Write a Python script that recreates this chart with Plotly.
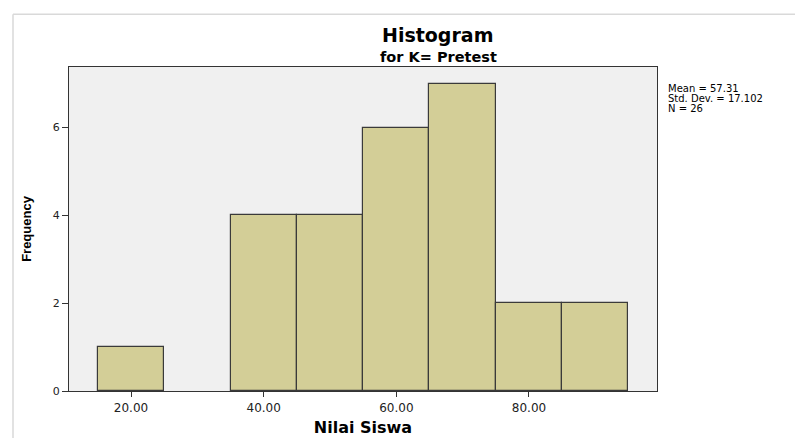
import plotly.graph_objects as go

bin_centers = [20, 40, 50, 60, 70, 80, 90]
frequencies = [1, 4, 4, 6, 7, 2, 2]
bin_width = 10
x_ticks = [20, 40, 60, 80]
y_ticks = [0, 2, 4, 6]
stats_lines = ["Mean = 57.31", "Std. Dev. = 17.102", "N = 26"]

W, H = 795, 446
L, R, T, B = 69, 138, 67, 48
pw = W - L - R
ph = H - T - B

def px(x):
    return (x - L) / pw

def py(y):
    return (H - B - y) / ph

font_family = "DejaVu Sans, Liberation Sans, Arial, sans-serif"

fig = go.Figure()
fig.add_trace(go.Bar(
    x=bin_centers, y=frequencies, width=[bin_width] * len(bin_centers),
    marker=dict(color="#d3ce97", line=dict(color="#3a3a3a", width=1.2)),
    showlegend=False, hoverinfo="x+y",
))

fig.update_layout(
    width=W, height=H,
    margin=dict(l=L, r=R, t=T, b=B, pad=0),
    paper_bgcolor="white",
    plot_bgcolor="#f0f0f0",
    font=dict(family=font_family, color="black"),
    bargap=0,
    xaxis=dict(
        range=[10.65, 99.3], tickvals=x_ticks, tickformat=".2f",
        showgrid=False, zeroline=False, showline=True, mirror=True,
        linecolor="#333333", linewidth=1.2, ticks="outside", ticklen=5,
        tickcolor="#333333", tickfont=dict(size=12, color="#222222"),
        title=dict(text="<b>Nilai Siswa</b>", font=dict(size=16), standoff=8),
    ),
    yaxis=dict(
        range=[0, 7.38], tickvals=y_ticks,
        showgrid=False, zeroline=False, showline=True, mirror=True,
        linecolor="#333333", linewidth=1.2, ticks="outside", ticklen=6,
        tickcolor="#333333", tickfont=dict(size=11, color="#222222"),
        title=dict(text="<b>Frequency</b>",
                   font=dict(size=13, family="Liberation Sans, Arial"), standoff=18),
    ),
)

fig.add_annotation(text="<b>Histogram</b>", xref="paper", yref="paper",
                   x=px(437), y=py(34), showarrow=False,
                   font=dict(size=19), xanchor="center", yanchor="middle")
fig.add_annotation(text="<b>for K= Pretest</b>", xref="paper", yref="paper",
                   x=px(438), y=py(57), showarrow=False,
                   font=dict(size=14.5), xanchor="center", yanchor="middle")
for i, line in enumerate(stats_lines):
    fig.add_annotation(text=line, xref="paper", yref="paper",
                       x=px(666), y=py(89 + 10 * i), showarrow=False, align="left",
                       font=dict(size=10), xanchor="left", yanchor="middle")

# light outer frame
fig.add_shape(type="line", xref="paper", yref="paper",
              x0=px(13), x1=px(795), y0=py(13), y1=py(13),
              line=dict(color="#d9d9d9", width=1.5))
fig.add_shape(type="line", xref="paper", yref="paper",
              x0=px(13), x1=px(13), y0=py(13), y1=py(446),
              line=dict(color="#d9d9d9", width=1.5))

fig.write_html("out.html", config={"displayModeBar": False},
               post_script="document.body.style.margin='0';")
